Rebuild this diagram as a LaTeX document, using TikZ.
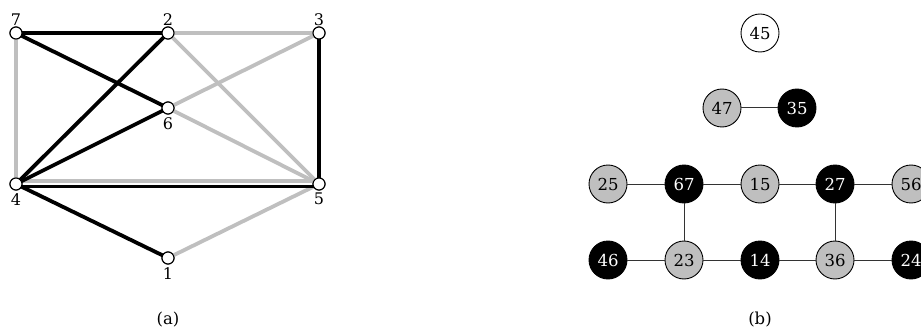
\documentclass[tikz,border=0pt]{standalone}
\usepackage{fontspec}
\setmainfont{DejaVu Serif}
\begin{document}
\begin{tikzpicture}[x=1pt,y=-1pt,
  font=\fontsize{16.5}{19}\selectfont,
  vtx/.style={circle,draw=black,line width=1.1pt,fill=white,minimum size=12pt,inner sep=0pt},
  lbl/.style={font=\fontsize{16}{19}\selectfont,inner sep=2.5pt},
  blk/.style={line width=3.8pt,black},
  gry/.style={line width=3.8pt,color=black!25},
  cell/.style={circle,draw=black,line width=0.9pt,minimum size=38pt,inner sep=0pt},
  cw/.style={cell,fill=white,text=black},
  cg/.style={cell,fill=black!25,text=black},
  cb/.style={cell,fill=black,text=white},
  lnk/.style={line width=1pt,black!80}]
\clip (0,0) rectangle (921,334);
\useasboundingbox (0,0) rectangle (921,334);

% ---- (a) the coloured graph ----
\node[vtx,label={[lbl,inner sep=1pt]above:7}] (v7) at (16,33) {};
\node[vtx,label={[lbl,inner sep=1pt]above:2}] (v2) at (168,33) {};
\node[vtx,label={[lbl,inner sep=1pt]above:3}] (v3) at (319,33) {};
\node[vtx,label={[lbl]below:6}] (v6) at (168,108) {};
\node[vtx,label={[lbl]below:4}] (v4) at (16,184) {};
\node[vtx,label={[lbl]below:5}] (v5) at (319,184) {};
\node[vtx,label={[lbl]below:1}] (v1) at (168,258) {};

% grey edges
\draw[gry] (v7.center) -- (v4.center);
\draw[gry] (v2.center) -- (v3.center);
\draw[gry] (v2.center) -- (v5.center);
\draw[gry] (v3.center) -- (v6.center);
\draw[gry] (v6.center) -- (v5.center);
\draw[gry] ([yshift=3pt]v4.center) -- ([yshift=3pt]v5.center);
\draw[gry] (v1.center) -- (v5.center);
% black edges
\draw[blk] (v7.center) -- (v2.center);
\draw[blk] (v7.center) -- (v6.center);
\draw[blk] (v4.center) -- (v2.center);
\draw[blk] (v4.center) -- (v6.center);
\draw[blk] ([yshift=-2.5pt]v4.center) -- ([yshift=-2.5pt]v5.center);
\draw[blk] (v3.center) -- (v5.center);
\draw[blk] (v4.center) -- (v1.center);

% redraw vertices on top of the edges
\foreach \v in {v7,v2,v3,v6,v4,v5,v1}
  \node[vtx] at (\v) {};

\node (capa) at (168,320) {(a)};

% ---- (b) the derived graph ----
\node[cw] (n45) at (760,33) {45};
\node[cg] (n47) at (722,108) {47};
\node[cb] (n35) at (797,108) {35};

\node[cg] (n25) at (608,184) {25};
\node[cb] (n67) at (684,184) {67};
\node[cg] (n15) at (760,184) {15};
\node[cb] (n27) at (835,184) {27};
\node[cg] (n56) at (911,184) {56};

\node[cb] (n46) at (608,260) {46};
\node[cg] (n23) at (684,260) {23};
\node[cb] (n14) at (760,260) {14};
\node[cg] (n36) at (835,260) {36};
\node[cb] (n24) at (911,260) {24};

\draw[lnk] (n47) -- (n35);
\draw[lnk] (n25) -- (n67);
\draw[lnk] (n67) -- (n15);
\draw[lnk] (n15) -- (n27);
\draw[lnk] (n27) -- (n56);
\draw[lnk] (n46) -- (n23);
\draw[lnk] (n23) -- (n14);
\draw[lnk] (n14) -- (n36);
\draw[lnk] (n36) -- (n24);
\draw[lnk] (n67) -- (n23);
\draw[lnk] (n27) -- (n36);

\node (capb) at (760,320) {(b)};
\end{tikzpicture}
\end{document}
